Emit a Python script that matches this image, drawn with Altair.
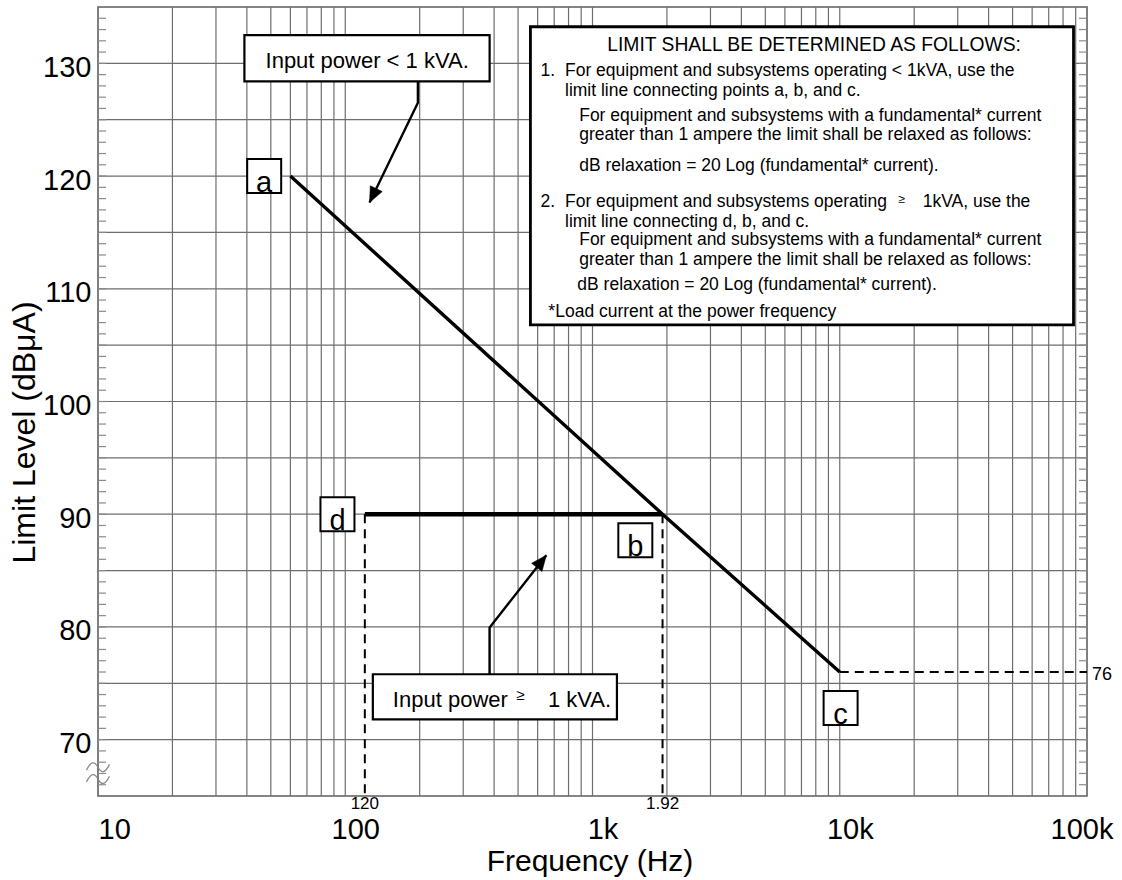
import altair as alt
import pandas as pd

FONT = "Liberation Sans"

# ---------------- data ----------------
# limit line a - b - c  (Hz, dBuA)
abc_freq = [60, 1920, 10000]
abc_level = [120, 90, 76]
# limit line d - b
db_freq = [120, 1920]
db_level = [90, 90]
# dashed reference lines
dash_id = ["v120", "v120", "v1920", "v1920", "h76", "h76"]
dash_freq = [120, 120, 1920, 1920, 10000, 100000]
dash_level = [90, 65, 90, 65, 76, 76]

# axis ticks
x_tick_values = [10, 100, 1000, 10000, 100000]
x_tick_labels = ["10", "100", "1k", "10k", "100k"]
y_tick_values = [70, 80, 90, 100, 110, 120, 130]
grid_x = [m * d for d in [10, 100, 1000, 10000] for m in range(1, 10)] + [100000]
grid_y = list(range(65, 136, 5))
minor_y = list(range(66, 135))

# point labels
pt_name = ["a", "b", "c", "d"]
pt_freq = [47, 1490, 10080, 93]
pt_level = [120, 87.7, 72.8, 90]

# reference value labels
ref_text = ["120", "1.92"]
ref_freq = [120, 1920]
ref_level = [64.25, 64.25]

# annotation boxes (Hz, dB)
box_id = ["big", "lt1k", "ge1k"]
box_f1 = [561, 39.1, 129.3]
box_f2 = [88200, 383.6, 1255.5]
box_l1 = [106.8, 128.4, 71.8]
box_l2 = [133.25, 132.5, 75.8]
box_sw = [2.8, 2.2, 2.2]

# arrows
arr_id = ["a1", "a1", "a1", "a2", "a2", "a2"]
arr_ord = [0, 1, 2, 0, 1, 2]
arr_freq = [196.7, 196.7, 125.4, 383.5, 383.5, 650.4]
arr_level = [128.4, 126.5, 117.65, 75.8, 79.94, 86.36]
head_freq = [125.4, 650.4]
head_level = [117.65, 86.36]
head_angle = [205.8, 38.1]

# text in the big box
note_text = [
    "1.",
    "For equipment and subsystems operating < 1kVA, use the",
    "limit line connecting points a, b, and c.",
    "For equipment and subsystems with a fundamental* current",
    "greater than 1 ampere the limit shall be relaxed as follows:",
    "dB relaxation = 20 Log (fundamental* current).",
    "2.",
    "For equipment and subsystems operating",
    "1kVA, use the",
    "limit line connecting d, b, and c.",
    "For equipment and subsystems with a fundamental* current",
    "greater than 1 ampere the limit shall be relaxed as follows:",
    "dB relaxation = 20 Log (fundamental* current).",
    "*Load current at the power frequency",
]
note_freq = [616.6, 774, 774, 883.5, 883.5, 883.5, 616.6, 774, 21650, 774, 883.5, 883.5, 868, 663]
note_level = [129.28, 129.28, 127.52, 125.31, 123.61, 120.91, 117.67, 117.67, 117.67,
              115.95, 114.3, 112.55, 110.3, 107.96]
note_title = "LIMIT SHALL BE DETERMINED AS FOLLOWS:"
note_title_freq = 7873
note_title_level = 131.63

# small texts in the two input power boxes and the ≥ signs
lab_text = ["Input power < 1 kVA.", "Input power", "1 kVA."]
lab_freq = [47.6, 155.8, 660.2]
lab_level = [130.17, 73.5, 73.5]
ge_freq = [491.8, 17280]
ge_level = [73.94, 117.98]
ge_size = [15, 12]

# ---------------- scales / axes ----------------
W, H = 989, 789
xs = alt.Scale(type="log", domain=[10, 100000], nice=False)
ys = alt.Scale(domain=[65, 135], nice=False, zero=False)

label_expr = " : ".join(f"datum.value == {v} ? '{l}'" for v, l in zip(x_tick_values, x_tick_labels)) + " : ''"

x_axis = alt.Axis(
    values=x_tick_values, labelExpr=label_expr, grid=False, ticks=False, domain=False,
    labelFont=FONT, labelFontSize=29, labelColor="black", labelPadding=19, labelFlush=True,
    labelOverlap=False,
    labelOffset={"condition": [{"test": "datum.value == 10", "value": 0},
                               {"test": "datum.value == 100000", "value": 26}],
                 "value": 10},
    title="Frequency (Hz)", titleFont=FONT, titleFontSize=30, titleFontWeight="normal",
    titleColor="black", titleX=W / 2 - 3, titleY=65, titleBaseline="middle", titleAlign="center",
)
y_axis = alt.Axis(
    values=y_tick_values, grid=False, ticks=False, domain=False,
    labelFont=FONT, labelFontSize=29, labelColor="black", labelPadding=7, labelOffset=4,
    labelOverlap=False,
    title="Limit Level (dBμA)", titleFont=FONT, titleFontSize=32, titleFontWeight="normal",
    titleColor="black", titleX=-74, titleY=425, titleAngle=270, titleBaseline="middle",
    titleAlign="center",
)


def X(field="freq"):
    return alt.X(f"{field}:Q", scale=xs, axis=x_axis)


def Y(field="level"):
    return alt.Y(f"{field}:Q", scale=ys, axis=y_axis)


GRID = "#6e6e6e"

grid_v = alt.Chart(pd.DataFrame({"freq": grid_x})).mark_rule(color=GRID, strokeWidth=1.2).encode(x=X())
grid_h = alt.Chart(pd.DataFrame({"level": grid_y})).mark_rule(color=GRID, strokeWidth=1.2).encode(y=Y())
ticks_l = alt.Chart(pd.DataFrame({"level": minor_y})).mark_rule(color="#8a8a8a", strokeWidth=1.2).encode(
    y=Y(), x=alt.value(0), x2=alt.value(8))
ticks_r = alt.Chart(pd.DataFrame({"level": minor_y})).mark_rule(color="#8a8a8a", strokeWidth=1.2).encode(
    y=Y(), x=alt.value(W - 8), x2=alt.value(W))

line_abc = alt.Chart(pd.DataFrame({"freq": abc_freq, "level": abc_level})).mark_line(
    color="black", strokeWidth=3.4).encode(x=X(), y=Y())
line_db = alt.Chart(pd.DataFrame({"freq": db_freq, "level": db_level})).mark_line(
    color="black", strokeWidth=4.4).encode(x=X(), y=Y())
dashes = alt.Chart(pd.DataFrame({"id": dash_id, "freq": dash_freq, "level": dash_level,
                                 "ord": list(range(len(dash_id)))})).mark_line(
    color="black", strokeWidth=2, strokeDash=[9, 6]).encode(
    x=X(), y=Y(), detail="id:N", order="ord:Q")

boxes = alt.Chart(pd.DataFrame({"id": box_id, "freq": box_f1, "freq2": box_f2,
                                "level": box_l1, "level2": box_l2, "sw": box_sw})).mark_rect(
    fill="white", stroke="black").encode(
    x=X(), x2="freq2:Q", y=Y(), y2="level2:Q",
    strokeWidth=alt.StrokeWidth("sw:Q", scale=None))

arrows = alt.Chart(pd.DataFrame({"id": arr_id, "ord": arr_ord, "freq": arr_freq, "level": arr_level})).mark_line(
    color="black", strokeWidth=2.4).encode(x=X(), y=Y(), detail="id:N", order="ord:Q")
heads = alt.Chart(pd.DataFrame({"freq": head_freq, "level": head_level, "ang": head_angle})).mark_point(
    shape="M0,0L-0.6,1.4L0.6,1.4Z", filled=True, fill="black", stroke="black", strokeWidth=0.5,
    size=484, opacity=1).encode(x=X(), y=Y(), angle=alt.Angle("ang:Q", scale=None))

pt_df = pd.DataFrame({"name": pt_name, "freq": pt_freq, "level": pt_level})
pt_boxes = alt.Chart(pt_df).mark_square(size=34 * 34, filled=True, fill="white", stroke="black",
                                        strokeWidth=2, opacity=1).encode(x=X(), y=Y())
pt_text = alt.Chart(pt_df).mark_text(font=FONT, fontSize=29, color="black", align="center",
                                     baseline="alphabetic", dy=16).encode(x=X(), y=Y(), text="name:N")

notes = alt.Chart(pd.DataFrame({"t": note_text, "freq": note_freq, "level": note_level})).mark_text(
    font=FONT, fontSize=17.5, color="black", align="left", baseline="middle").encode(
    x=X(), y=Y(), text="t:N")
notes_title = alt.Chart(pd.DataFrame({"t": [note_title], "freq": [note_title_freq],
                                      "level": [note_title_level]})).mark_text(
    font=FONT, fontSize=19.3, color="black", align="center", baseline="middle").encode(
    x=X(), y=Y(), text="t:N")
labs = alt.Chart(pd.DataFrame({"t": lab_text, "freq": lab_freq, "level": lab_level})).mark_text(
    font=FONT, fontSize=22, color="black", align="left", baseline="middle").encode(
    x=X(), y=Y(), text="t:N")
ge = alt.Chart(pd.DataFrame({"t": ["≥", "≥"], "freq": ge_freq, "level": ge_level, "s": ge_size})).mark_text(
    font=FONT, color="black", align="left", baseline="middle").encode(
    x=X(), y=Y(), text="t:N", size=alt.Size("s:Q", scale=None))

refs = alt.Chart(pd.DataFrame({"t": ref_text, "freq": ref_freq, "level": ref_level})).mark_text(
    font=FONT, fontSize=17, color="black", align="center", baseline="middle").encode(
    x=X(), y=Y(), text="t:N")
ref76 = alt.Chart(pd.DataFrame({"t": ["76"], "freq": [100000], "level": [75.7]})).mark_text(
    font=FONT, fontSize=18, color="black", align="left", baseline="middle", dx=5).encode(
    x=X(), y=Y(), text="t:N")

brk = alt.Chart(pd.DataFrame({"freq": [10, 10], "level": [67.55, 66.5]})).mark_point(
    shape="M-1,0.25C-0.6,-0.55 -0.3,-0.55 0,0C0.3,0.55 0.6,0.55 1,-0.25", filled=False,
    stroke="#8a8a8a", strokeWidth=1.3, size=529, opacity=1, dx=2).encode(x=X(), y=Y())

chart = alt.layer(
    grid_v, grid_h, ticks_l, ticks_r, brk,
    dashes, line_abc, line_db,
    boxes, notes, notes_title, labs, ge,
    arrows, heads,
    pt_boxes, pt_text,
    refs, ref76,
).properties(
    width=W, height=H,
    autosize=alt.AutoSizeParams(type="none"),
    padding={"left": 98, "top": 7, "right": 35, "bottom": 84},
    background="white",
).configure_view(stroke="#9a9a9a", strokeWidth=2)

chart.save("out.html", embed_options={"renderer": "svg", "actions": False})
